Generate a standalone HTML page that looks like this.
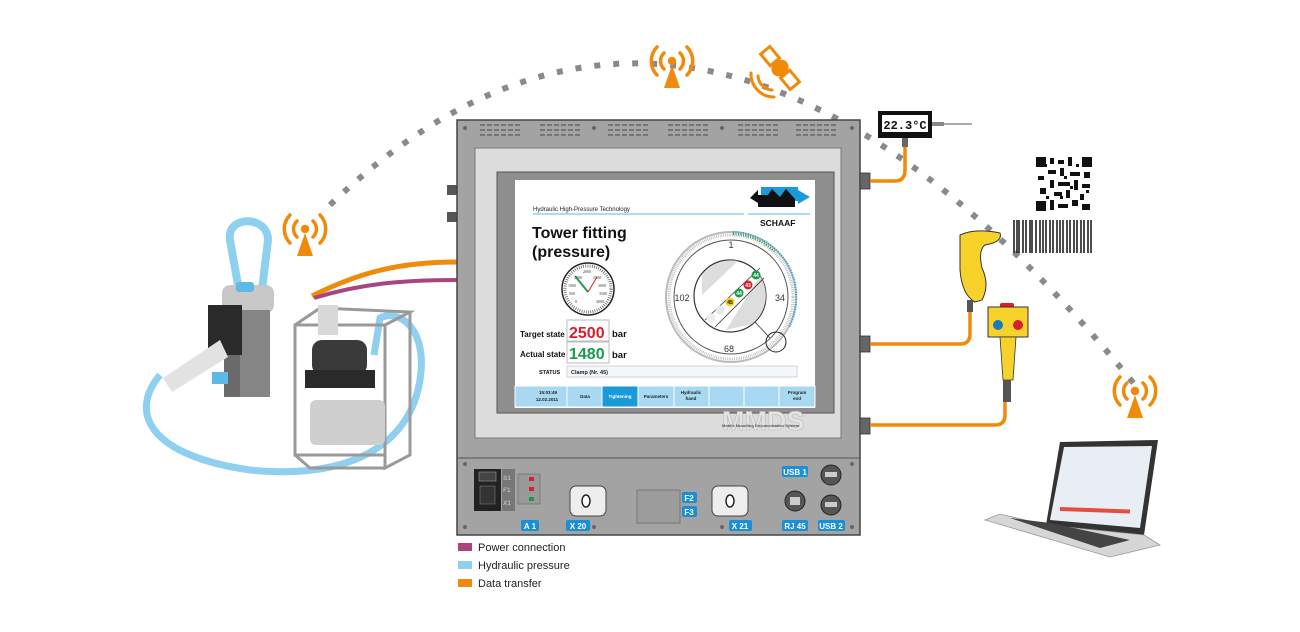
<!DOCTYPE html>
<html><head><meta charset="utf-8"><style>
html,body{margin:0;padding:0;background:#fff;}
svg{display:block;font-family:"Liberation Sans",sans-serif;}
</style></head><body>
<svg width="1300" height="632" viewBox="0 0 1300 632" xmlns="http://www.w3.org/2000/svg">
<!-- dotted arc -->
<path d="M330 205 Q700 -150 1135 385" fill="none" stroke="#8a8a8a" stroke-width="6" stroke-dasharray="6 13"/>
<!-- antennas -->
<g fill="none" stroke="#f08a0a" stroke-width="3.5" stroke-linecap="round">
 <g transform="translate(305,230)"><path d="M-8 -9 A11 11 0 0 0 -8 7"/><path d="M8 -9 A11 11 0 0 1 8 7"/><path d="M-15 -15 A20 20 0 0 0 -15 13"/><path d="M15 -15 A20 20 0 0 1 15 13"/><circle cx="0" cy="-1" r="2.5" fill="#f08a0a"/><path d="M0 3 L-8 26 L8 26Z" fill="#f08a0a" stroke="none"/></g>
 <g transform="translate(672,62)"><path d="M-8 -9 A11 11 0 0 0 -8 7"/><path d="M8 -9 A11 11 0 0 1 8 7"/><path d="M-15 -15 A20 20 0 0 0 -15 13"/><path d="M15 -15 A20 20 0 0 1 15 13"/><circle cx="0" cy="-1" r="2.5" fill="#f08a0a"/><path d="M0 3 L-8 26 L8 26Z" fill="#f08a0a" stroke="none"/></g>
 <g transform="translate(1135,392)"><path d="M-8 -9 A11 11 0 0 0 -8 7"/><path d="M8 -9 A11 11 0 0 1 8 7"/><path d="M-15 -15 A20 20 0 0 0 -15 13"/><path d="M15 -15 A20 20 0 0 1 15 13"/><circle cx="0" cy="-1" r="2.5" fill="#f08a0a"/><path d="M0 3 L-8 26 L8 26Z" fill="#f08a0a" stroke="none"/></g>
</g>
<!-- satellite -->
<g transform="translate(780,68) rotate(50)">
 <rect x="-23" y="-6" width="15" height="12" fill="#fff" stroke="#f08a0a" stroke-width="3"/>
 <rect x="8" y="-6" width="15" height="12" fill="#fff" stroke="#f08a0a" stroke-width="3"/>
 <ellipse cx="0" cy="0" rx="8" ry="9" fill="#f08a0a"/>
</g>
<g fill="none" stroke="#f08a0a" stroke-width="3" stroke-linecap="round">
 <path d="M758 76 A15 15 0 0 0 772 90"/><path d="M751 73 A23 23 0 0 0 774 97"/>
</g>
<!-- left cables -->
<path d="M457 262 C400 262 360 272 312 296" fill="none" stroke="#f08a0a" stroke-width="5"/>
<path d="M457 280 C400 280 360 284 314 298" fill="none" stroke="#a8457e" stroke-width="4"/>
<!-- hydraulic hose -->
<path d="M160 375 C130 410 145 455 250 470 C350 480 410 445 420 380 C428 330 400 308 380 318 L374 355" fill="none" stroke="#8fd0f0" stroke-width="7"/>
<!-- tool -->
<path d="M238 285 L230 240 C226 215 268 215 268 240 L262 290" fill="none" stroke="#8fd0f0" stroke-width="8"/>
<rect x="222" y="285" width="52" height="28" rx="8" fill="#c8c8c8"/>
<rect x="236" y="282" width="18" height="10" rx="3" fill="#5cb9e8"/>
<rect x="224" y="310" width="46" height="87" fill="#6a6a6a"/>
<rect x="240" y="310" width="30" height="87" fill="#858585"/>
<rect x="208" y="305" width="34" height="50" fill="#2a2a2a"/>
<path d="M220 340 L163 378 L172 392 L228 357Z" fill="#e2e2e2"/>
<rect x="212" y="372" width="16" height="12" fill="#5cb9e8"/>
<!-- pump frame -->
<g stroke="#9a9a9a" stroke-width="3" fill="none"><rect x="295" y="325" width="90" height="130"/><path d="M295 325 L320 308 L410 312 L385 325 M410 312 L410 455 L385 468 L385 455 M295 455 L310 468 L385 468"/></g>
<rect x="312" y="340" width="55" height="35" rx="10" fill="#3a3a3a"/>
<rect x="305" y="370" width="70" height="18" fill="#2a2a2a"/>
<rect x="310" y="400" width="75" height="45" rx="6" fill="#cfcfcf"/>
<rect x="318" y="305" width="20" height="30" fill="#d8d8d8"/>
<!-- device frame -->
<rect x="447" y="185" width="11" height="10" fill="#555"/>
<rect x="447" y="212" width="11" height="10" fill="#555"/>
<rect x="457" y="120" width="403" height="415" fill="#a3a3a3" stroke="#444" stroke-width="1.5"/>
<g fill="#666"><circle cx="465" cy="128" r="2"/><circle cx="594" cy="128" r="2"/><circle cx="722" cy="128" r="2"/><circle cx="852" cy="128" r="2"/></g>
<g stroke="#666" stroke-width="1.5" stroke-dasharray="5 2">
<path d="M480 125h40M480 130h40M480 135h40M540 125h40M540 130h40M540 135h40M608 125h40M608 130h40M608 135h40M668 125h40M668 130h40M668 135h40M738 125h40M738 130h40M738 135h40M796 125h40M796 130h40M796 135h40"/></g>
<rect x="475" y="148" width="366" height="290" fill="#dcdcdc" stroke="#777"/>
<rect x="497" y="172" width="337" height="241" fill="#8e8e8e" stroke="#555"/>
<rect x="515" y="180" width="300" height="228" fill="#fff"/>
<text x="722" y="430" font-size="27" font-weight="bold" fill="#e4e4e4" stroke="#bbb" stroke-width="0.6">MMDS</text>
<text x="722" y="427" font-size="4" font-weight="bold" fill="#555">Mobile Mounting Documentation System</text>
<!-- screen content -->
<text x="533" y="211" font-size="6" fill="#222">Hydraulic High-Pressure Technology</text>
<line x1="533" y1="214" x2="744" y2="214" stroke="#8fd0f0" stroke-width="1.5"/>
<line x1="748" y1="214" x2="810" y2="214" stroke="#8fd0f0" stroke-width="1.5"/>
<rect x="761" y="187" width="37" height="14" fill="#1a9ad9"/>
<path d="M750 198 L758 190 L758 195 L768 195 L772 189 L780 197 L786 189 L795 199 L795 207 L758 207 L758 203Z" fill="#111"/>
<path d="M798 190 L810 197 L798 204Z" fill="#1a9ad9"/>
<text x="760" y="226" font-size="8.5" font-weight="bold" fill="#111">SCHAAF</text>
<text x="532" y="238" font-size="16" font-weight="bold" fill="#111">Tower fitting</text>
<text x="532" y="257" font-size="16" font-weight="bold" fill="#111">(pressure)</text>
<circle cx="588" cy="289" r="26" fill="#fff" stroke="#222" stroke-width="1.5"/>
<circle cx="588" cy="289" r="23" fill="none" stroke="#555" stroke-width="3" stroke-dasharray="0.7 1.5"/>
<g font-size="4" fill="#333" font-family="Liberation Serif,serif"><text x="583" y="273">2000</text><text x="574" y="279">1500</text><text x="593" y="279">2500</text><text x="568" y="287">1000</text><text x="598" y="287">3000</text><text x="569" y="295">500</text><text x="599" y="295">3500</text><text x="575" y="303">0</text><text x="596" y="303">4000</text></g>
<line x1="588" y1="292" x2="575" y2="276" stroke="#1a9a4a" stroke-width="1.8"/>
<line x1="588" y1="292" x2="597" y2="277" stroke="#d0202a" stroke-width="1"/>
<text x="520" y="337" font-size="8" font-weight="bold" fill="#111">Target state</text>
<rect x="567" y="320" width="42" height="21" fill="#fff" stroke="#bbb"/>
<text x="569" y="338" font-size="16" font-weight="bold" fill="#d8202a">2500</text>
<text x="612" y="337" font-size="9.5" font-weight="bold" fill="#111">bar</text>
<text x="520" y="357" font-size="8" font-weight="bold" fill="#111">Actual state</text>
<rect x="567" y="342" width="42" height="21" fill="#fff" stroke="#bbb"/>
<text x="569" y="359" font-size="16" font-weight="bold" fill="#1a9a4a">1480</text>
<text x="612" y="358" font-size="9.5" font-weight="bold" fill="#111">bar</text>
<text x="539" y="374" font-size="5.5" font-weight="bold" fill="#111">STATUS</text>
<rect x="567" y="366" width="230" height="11" fill="#f4f8fb" stroke="#bbb" stroke-width="0.6"/>
<text x="571" y="374" font-size="5.5" font-weight="bold" fill="#222">Clamp (Nr. 45)</text>
<!-- big dial -->
<circle cx="731" cy="297" r="65" fill="#fff" stroke="#bbb" stroke-width="2"/>
<circle cx="731" cy="297" r="62" fill="none" stroke="#aaa" stroke-width="3" stroke-dasharray="0.6 1.2"/>
<circle cx="731" cy="297" r="57" fill="#fff" stroke="#555" stroke-width="1"/>
<path d="M733 232 A65 65 0 0 1 789 327" fill="none" stroke="#1a9ad9" stroke-width="2" stroke-dasharray="1 1.5"/>
<path d="M733 234 A63 63 0 0 1 775 252" fill="none" stroke="#1a9a4a" stroke-width="2" stroke-dasharray="1 1.5"/>
<circle cx="730" cy="296" r="36" fill="#fff" stroke="#333" stroke-width="1.2"/>
<path d="M702 275 A36 36 0 0 1 738 261 L702 295Z" fill="#ddd"/>
<path d="M760 276 A36 36 0 0 1 752 324 L726 330 Z" fill="#ddd"/>
<line x1="705" y1="320" x2="760" y2="268" stroke="#333" stroke-width="0.8"/>
<line x1="715" y1="327" x2="764" y2="278" stroke="#333" stroke-width="0.8"/>
<line x1="755" y1="322" x2="770" y2="338" stroke="#333" stroke-width="0.8"/>
<circle cx="776" cy="342" r="10" fill="none" stroke="#222" stroke-width="1"/>
<g font-size="5" font-weight="bold" text-anchor="middle">
<circle cx="756" cy="275" r="4.5" fill="#1a9a4a"/><text x="756" y="277" fill="#fff">44</text>
<circle cx="748" cy="285" r="4.5" fill="#d8202a"/><text x="748" y="287" fill="#fff">43</text>
<circle cx="739" cy="293" r="4.5" fill="#1a9a4a"/><text x="739" y="295" fill="#fff">44</text>
<circle cx="730" cy="302" r="4.5" fill="#f2d21a"/><text x="730" y="304" fill="#111">45</text>
<circle cx="720" cy="310" r="4.5" fill="#e8e8e8"/><circle cx="711" cy="318" r="4.5" fill="#eee"/></g>
<g font-size="9" fill="#333" text-anchor="middle"><text x="731" y="248">1</text><text x="682" y="301">102</text><text x="780" y="301">34</text><text x="729" y="352">68</text></g>
<!-- bottom bar -->
<g stroke="#fff" stroke-width="1">
<rect x="515" y="386" width="52" height="21" fill="#a8d8f2"/>
<rect x="567" y="386" width="35" height="21" fill="#a8d8f2"/>
<rect x="602" y="386" width="36" height="21" fill="#1a9ad9"/>
<rect x="638" y="386" width="36" height="21" fill="#a8d8f2"/>
<rect x="674" y="386" width="35" height="21" fill="#a8d8f2"/>
<rect x="709" y="386" width="35" height="21" fill="#a8d8f2"/>
<rect x="744" y="386" width="35" height="21" fill="#a8d8f2"/>
<rect x="779" y="386" width="36" height="21" fill="#a8d8f2"/></g>
<g font-size="4.5" font-weight="bold" fill="#222" text-anchor="middle">
<text x="548" y="394">15:03:49</text><text x="547" y="401">12.02.2011</text>
<text x="585" y="398">Data</text><text x="620" y="398" fill="#fff">Tightening</text>
<text x="656" y="398">Parameters</text><text x="691" y="394">Hydraulic</text><text x="691" y="400">hand</text>
<text x="797" y="394">Program</text><text x="797" y="400">end</text></g>
<!-- bottom panel -->
<line x1="457" y1="458" x2="860" y2="458" stroke="#555"/>
<g fill="#666"><circle cx="465" cy="464" r="2"/><circle cx="852" cy="464" r="2"/><circle cx="465" cy="527" r="2"/><circle cx="852" cy="527" r="2"/><circle cx="594" cy="527" r="2"/><circle cx="722" cy="527" r="2"/></g>
<rect x="474" y="469" width="27" height="42" fill="#222"/>
<rect x="479" y="472" width="17" height="9" fill="#444" stroke="#999" stroke-width="0.6"/>
<rect x="480" y="486" width="15" height="18" fill="#333" stroke="#777" stroke-width="0.6"/>
<rect x="502" y="469" width="13" height="42" fill="#777"/>
<g font-size="6.5" font-weight="bold" fill="#bbb"><text x="503" y="480">S1</text><text x="503" y="492">F1</text><text x="503" y="505">X1</text></g>
<rect x="518" y="474" width="22" height="30" fill="#999" stroke="#666" stroke-width="0.6"/>
<rect x="529" y="477" width="5" height="4" fill="#d8202a"/><rect x="529" y="487" width="5" height="4" fill="#d8202a"/><rect x="529" y="497" width="5" height="4" fill="#1a9a4a"/>
<g fill="#eee" stroke="#444" stroke-width="1"><rect x="570" y="486" width="36" height="30" rx="6"/><rect x="712" y="486" width="36" height="30" rx="6"/></g>
<g fill="#fff" stroke="#222" stroke-width="1.5"><ellipse cx="586" cy="501" rx="4" ry="6"/><ellipse cx="730" cy="501" rx="4" ry="6"/></g>
<rect x="637" y="490" width="43" height="33" fill="#9c9c9c" stroke="#777"/>
<g fill="#1a8fd6"><rect x="521" y="520" width="18" height="11" rx="2"/><rect x="566" y="520" width="24" height="11" rx="2"/><rect x="729" y="520" width="23" height="11" rx="2"/><rect x="682" y="492" width="15" height="11" rx="2"/><rect x="682" y="506" width="15" height="11" rx="2"/><rect x="782" y="466" width="26" height="11" rx="2"/><rect x="782" y="520" width="26" height="11" rx="2"/><rect x="818" y="520" width="27" height="11" rx="2"/></g>
<g font-size="8" font-weight="bold" fill="#fff" text-anchor="middle"><text x="530" y="529">A 1</text><text x="578" y="529">X 20</text><text x="740" y="529">X 21</text><text x="689" y="501">F2</text><text x="689" y="515">F3</text><text x="795" y="475">USB 1</text><text x="795" y="529">RJ 45</text><text x="831" y="529">USB 2</text></g>
<g fill="#555" stroke="#222" stroke-width="1"><circle cx="831" cy="475" r="10"/><circle cx="831" cy="505" r="10"/><circle cx="795" cy="501" r="10"/></g>
<g fill="#ccc"><rect x="825" y="472" width="12" height="5"/><rect x="825" y="502" width="12" height="5"/><rect x="790" y="497" width="10" height="8"/></g>
<!-- legend -->
<rect x="458" y="543" width="14" height="8" fill="#a8457e"/><text x="478" y="551" font-size="11" fill="#222">Power connection</text>
<rect x="458" y="561" width="14" height="8" fill="#8fd0f0"/><text x="478" y="569" font-size="11" fill="#222">Hydraulic pressure</text>
<rect x="458" y="579" width="14" height="8" fill="#f08a0a"/><text x="478" y="587" font-size="11" fill="#222">Data transfer</text>
<!-- right connectors and cables -->
<g fill="#666" stroke="#333" stroke-width="0.8"><rect x="860" y="173" width="10" height="16"/><rect x="860" y="336" width="10" height="16"/><rect x="860" y="418" width="10" height="16"/></g>
<g fill="none" stroke="#f08a0a" stroke-width="3.5">
<path d="M870 181 L895 181 Q905 181 905 170 L905 145"/>
<path d="M870 344 L960 344 Q970 344 970 334 L970 312"/>
<path d="M870 425 L995 425 Q1005 425 1005 415 L1005 400"/></g>
<!-- thermometer -->
<rect x="878" y="111" width="54" height="27" fill="#111"/>
<rect x="882" y="115" width="46" height="17" fill="#fff"/>
<text x="905" y="129" font-size="12" font-weight="bold" fill="#111" text-anchor="middle" font-family="Liberation Mono,monospace">22.3°C</text>
<rect x="932" y="122" width="12" height="4" fill="#888"/><line x1="944" y1="124" x2="972" y2="124" stroke="#555"/>
<rect x="902" y="138" width="6" height="9" fill="#666"/>
<!-- QR -->
<rect x="1035" y="156" width="58" height="56" fill="#fff"/>
<g fill="#111">
<rect x="1036" y="157" width="10" height="10"/><rect x="1082" y="157" width="10" height="10"/><rect x="1036" y="201" width="10" height="10"/>
<rect x="1050" y="158" width="4" height="6"/><rect x="1058" y="160" width="6" height="4"/><rect x="1068" y="157" width="4" height="9"/><rect x="1048" y="170" width="8" height="4"/><rect x="1060" y="168" width="4" height="8"/><rect x="1070" y="172" width="10" height="4"/><rect x="1084" y="172" width="6" height="6"/><rect x="1038" y="176" width="6" height="4"/><rect x="1050" y="180" width="4" height="8"/><rect x="1058" y="182" width="12" height="4"/><rect x="1074" y="180" width="4" height="10"/><rect x="1082" y="184" width="8" height="4"/><rect x="1040" y="188" width="6" height="6"/><rect x="1054" y="192" width="8" height="4"/><rect x="1066" y="190" width="4" height="8"/><rect x="1080" y="194" width="4" height="6"/><rect x="1050" y="200" width="4" height="10"/><rect x="1058" y="204" width="10" height="4"/><rect x="1072" y="200" width="6" height="6"/><rect x="1082" y="204" width="8" height="6"/>
<rect x="1044" y="164" width="3" height="3"/><rect x="1064" y="176" width="3" height="3"/><rect x="1046" y="196" width="3" height="3"/><rect x="1070" y="186" width="3" height="3"/><rect x="1086" y="190" width="3" height="3"/><rect x="1060" y="196" width="3" height="3"/><rect x="1076" y="164" width="3" height="3"/></g>
<!-- barcode -->
<g stroke="#111">
<path d="M1014 220v33M1017 220v33M1019 220v33M1023 220v33M1026 220v33M1030 220v33M1032 220v33M1036 220v33M1040 220v33M1043 220v33M1046 220v33M1050 220v33M1053 220v33M1057 220v33M1060 220v33M1063 220v33M1067 220v33M1070 220v33M1074 220v33M1077 220v33M1081 220v33M1084 220v33M1088 220v33M1091 220v33" stroke-width="1.5"/></g>
<!-- scanner -->
<path d="M960 235 Q975 228 1000 233 Q1003 242 985 245 Q978 250 982 268 Q990 285 982 300 L975 302 Q962 295 960 270 Z" fill="#f6d22a" stroke="#333" stroke-width="1"/>
<rect x="967" y="300" width="6" height="12" fill="#555"/>
<!-- push button -->
<rect x="1000" y="303" width="14" height="5" rx="2" fill="#d8202a"/>
<rect x="988" y="307" width="40" height="30" fill="#f6d22a" stroke="#333" stroke-width="1"/>
<circle cx="998" cy="325" r="5" fill="#1a7ac0"/><circle cx="1018" cy="325" r="5" fill="#d8202a"/>
<path d="M1000 337 L1016 337 L1013 380 L1003 380Z" fill="#f6d22a" stroke="#333" stroke-width="0.8"/>
<rect x="1003" y="380" width="8" height="22" fill="#555"/>
<!-- laptop -->
<path d="M1060 442 L1158 440 L1144 535 L1046 525 Z" fill="#333"/>
<path d="M1064 447 L1152 446 L1140 528 L1050 520 Z" fill="#e8eef4"/>
<rect x="1060" y="470" width="70" height="4" fill="#e84c3d" transform="skewY(2)"/>
<path d="M1046 525 L1144 535 L1160 545 L1110 557 L985 520 L1000 514 Z" fill="#d6d6d6" stroke="#999" stroke-width="0.8"/>
<path d="M1010 518 L1050 523 L1130 540 L1100 548 Z" fill="#444"/>
</svg>
</body></html>
